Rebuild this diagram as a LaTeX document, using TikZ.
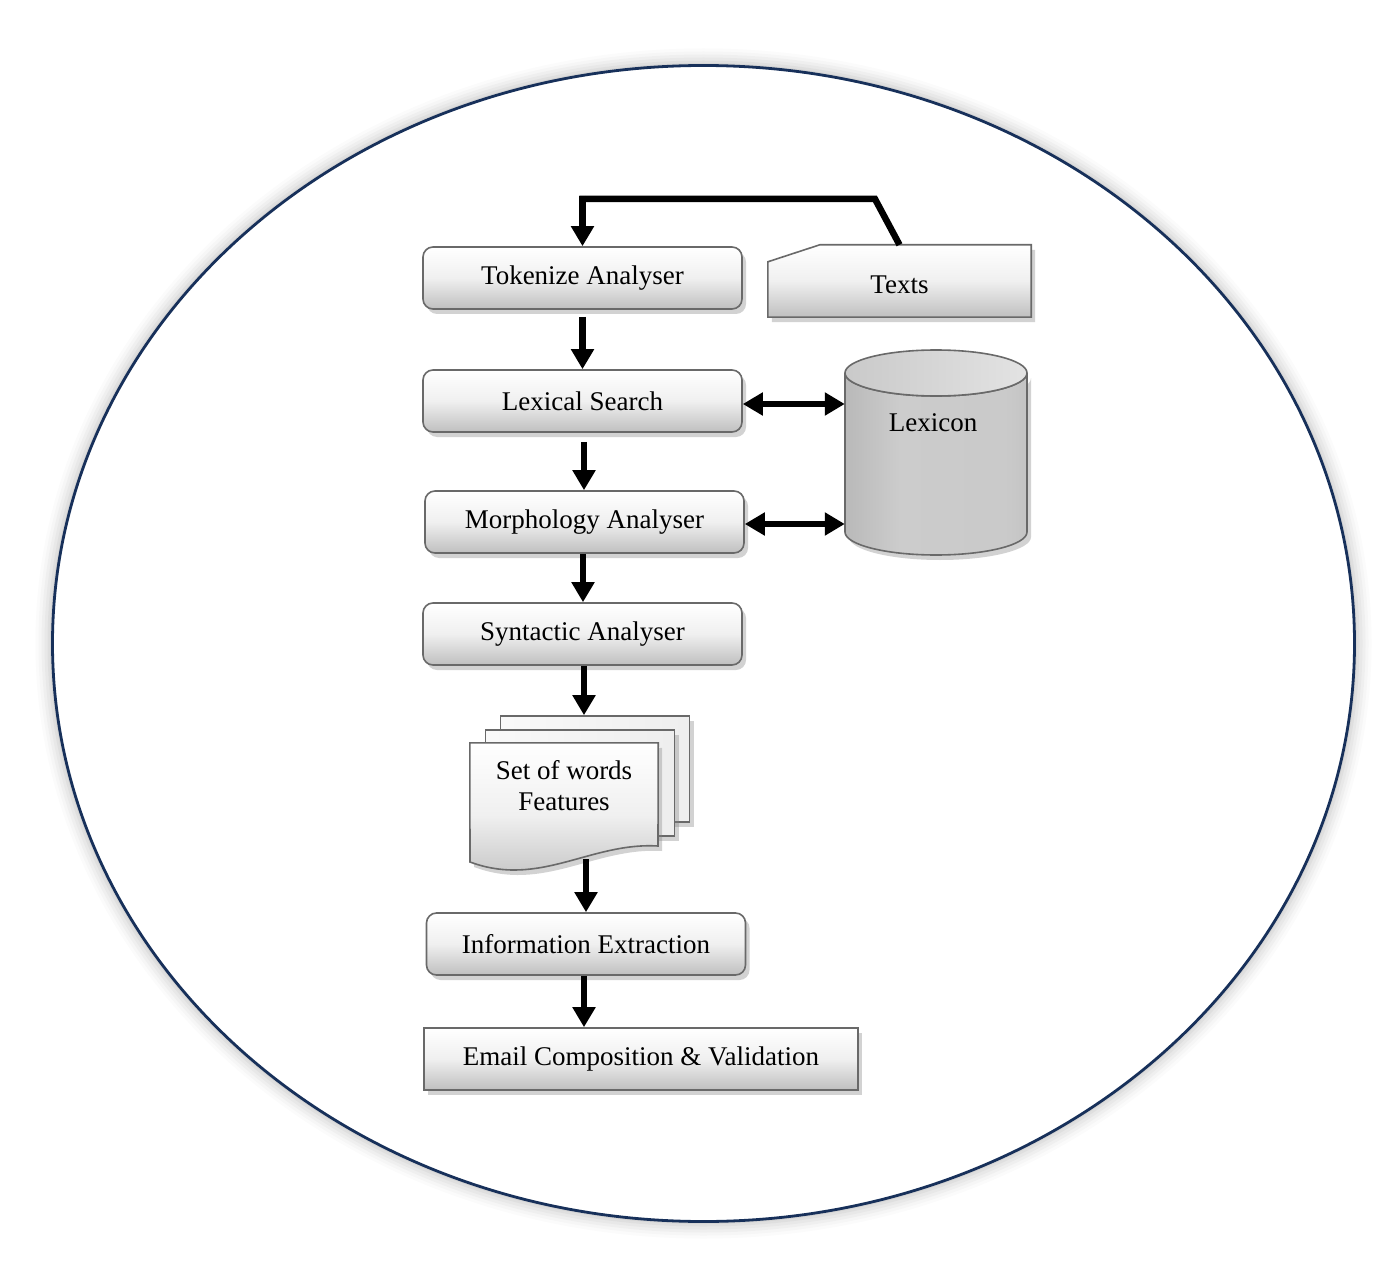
\documentclass[tikz,border=0pt]{standalone}
\usepackage{fontspec}
\setmainfont{Liberation Serif}
\usetikzlibrary{arrows.meta,shadows,calc}
\definecolor{navy}{RGB}{23,48,90}
\definecolor{edge}{RGB}{105,105,105}
\pgfdeclarehorizontalshading{cylbody}{100bp}{color(0bp)=(gray!80);color(40bp)=(gray!40);color(70bp)=(gray!42);color(100bp)=(gray!68)}
\pgfdeclarehorizontalshading{pageshade}{100bp}{color(0bp)=(white);color(100bp)=(gray!18)}
\tikzset{
  txt/.style={font=\fontsize{27}{31}\selectfont, text=black},
  shd/.style={drop shadow={shadow xshift=4pt, shadow yshift=-5pt, opacity=0.35, fill=gray}},
  procbox/.style={txt, draw=edge, line width=1.6pt, rounded corners=10pt,
     top color=white, bottom color=gray!50, middle color=gray!12, shd,
     minimum width=319pt, minimum height=62pt, inner sep=0pt},
  sqbox/.style={procbox, rounded corners=0pt},
  arr/.style={line width=6.5pt, -{Triangle[width=22pt,length=20pt]}},
  darr/.style={line width=6.5pt, {Triangle[width=22pt,length=20pt]}-{Triangle[width=22pt,length=20pt]}},
  page/.style={draw=edge, line width=1.6pt, shading=pageshade, shd, minimum width=189pt, minimum height=106pt, inner sep=0pt},
  shapeline/.style={draw=edge, line width=1.6pt}
}
\begin{document}
\begin{tikzpicture}[x=1pt,y=-1pt]
\useasboundingbox (0,0) rectangle (1395,1273);
\fill[white] (0,0) rectangle (1395,1273);
% outer ellipse with glow
\foreach \w/\o in {34/0.03,28/0.04,22/0.05,16/0.06,10/0.08,5/0.1}{
  \draw[gray, line width=\w pt, opacity=\o] (703.5,643.5) ellipse [x radius=651pt, y radius=578pt];
}
\fill[white] (703.5,643.5) ellipse [x radius=651pt, y radius=578pt];
\draw[navy, line width=2.8pt] (703.5,643.5) ellipse [x radius=651pt, y radius=578pt];

% process boxes
\node[procbox] (tok) at (582.5,278) {Tokenize Analyser};
\node[procbox] (lex) at (582.5,401) {Lexical Search};
\node[procbox] (mor) at (584.5,522) {Morphology Analyser};
\node[procbox] (syn) at (582.5,634) {Syntactic Analyser};
\node[procbox] (info) at (586,944) {Information Extraction};
\node[sqbox, minimum width=434pt] (mail) at (641,1059) {Email Composition \& Validation};

% Texts (card shape)
\node[minimum width=263pt, minimum height=72pt, inner sep=0pt] (texts) at (899.5,281) {};
\path[shapeline, top color=white, bottom color=gray!50, middle color=gray!12, shd]
  (texts.south west) -- ($(texts.north west)+(0,17)$) -- ($(texts.north west)+(52,0)$)
  -- (texts.north east) -- (texts.south east) -- cycle;
\node[txt] at ($(texts.center)+(0,4)$) {Texts};

% Lexicon cylinder
\node[minimum width=182pt, minimum height=205pt, inner sep=0pt] (lexicon) at (936,452.5) {};
\path[shapeline, shading=cylbody, shd]
  (845,373) -- (845,532) arc[start angle=180, end angle=360, x radius=91pt, y radius=23pt]
  -- (1027,373) arc[start angle=0, end angle=-180, x radius=91pt, y radius=23pt] -- cycle;
\path[shapeline, left color=gray!42, right color=gray!22]
  (936,373) ellipse [x radius=91pt, y radius=23pt];
\node[txt] at (933,423) {Lexicon};

% Set of words (multi-document)
\node[page] (pgA) at (595,769) {};
\node[page] (pgB) at (580,783) {};
\node[minimum width=188pt, minimum height=117pt, inner sep=0pt] (pgC) at (564,801.5) {};
\path[shapeline, top color=white, bottom color=gray!50, middle color=gray!12, shd]
  (pgC.north west) -- (pgC.north east) -- (658,846)
  .. controls (590,842) and (540,888) .. (470,862) -- cycle;
\node[txt, align=center] (setw) at (564,786) {Set of words\\Features};
\coordinate (setbot) at (586,859);

% connectors
\coordinate (bend) at (875,199);
\draw[line width=6.5pt, line join=miter] (texts.north) -- (bend) -- (tok.north |- bend) -- ([yshift=-1pt]tok.north |- bend);
\draw[arr] ([yshift=3pt]tok.north |- bend) -- (tok.north);
\draw[arr] ([yshift=-7pt]tok.south) -- (lex.north);
\draw[arr] ([xshift=1.5pt,yshift=-9pt]lex.south) -- ([xshift=1.5pt]lex.south |- mor.north);
\draw[arr] ([xshift=-1.5pt]mor.south) -- ([xshift=-1.5pt]mor.south |- syn.north);
\draw[arr] ([xshift=1.5pt]syn.south) -- ([xshift=1.5pt]syn.south |- pgA.north);
\draw[arr] (setbot) -- (setbot |- info.north);
\draw[arr] ([xshift=-2pt]info.south) -- ([xshift=-2pt]info.south |- mail.north);
\draw[darr] (lex.east |- 0,404) -- (lexicon.west |- 0,404);
\draw[darr] (mor.east |- 0,524) -- (lexicon.west |- 0,524);
\end{tikzpicture}
\end{document}
